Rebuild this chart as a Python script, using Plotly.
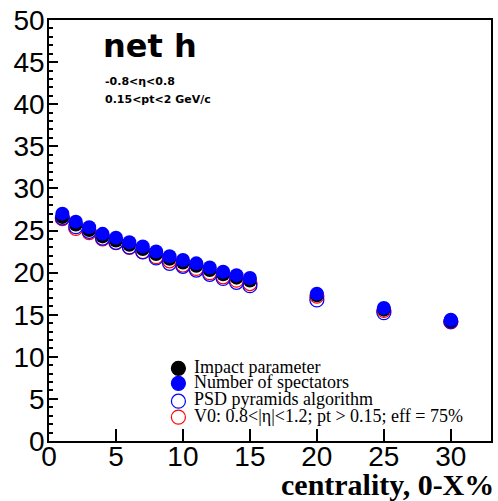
import plotly.graph_objects as go

# centrality bins (0-X %)
centrality = [1, 2, 3, 4, 5, 6, 7, 8, 9, 10, 11, 12, 13, 14, 15, 20, 25, 30]

# net-hadron values for each centrality estimator
impact_parameter = [26.6, 25.7, 25.05, 24.3, 23.8, 23.3, 22.8, 22.2, 21.65, 21.2,
                    20.8, 20.3, 19.8, 19.4, 19.05, 17.3, 15.6, 14.2]
n_spectators = [27.0, 26.05, 25.4, 24.6, 24.15, 23.6, 23.1, 22.5, 21.95, 21.5,
                21.1, 20.6, 20.1, 19.7, 19.35, 17.5, 15.8, 14.4]
psd_pyramids = [26.5, 25.45, 24.9, 24.1, 23.6, 23.05, 22.45, 21.75, 21.1, 20.75,
                20.3, 19.8, 19.3, 18.85, 18.45, 16.75, 15.25, 14.2]
v0_eff75 = [26.4, 25.25, 24.75, 24.0, 23.55, 23.0, 22.5, 21.9, 21.4, 20.9,
            20.5, 20.0, 19.5, 19.1, 18.7, 17.2, 15.5, 14.15]

legend_labels = [
    "Impact parameter",
    "Number of spectators",
    "PSD pyramids algorithm",
    "V0: 0.8<|\u03b7|<1.2; pt > 0.15; eff = 75%",
]

MS = 14
fig = go.Figure()
fig.add_trace(go.Scatter(x=centrality, y=impact_parameter, mode="markers",
                         marker=dict(symbol="circle", size=MS, color="black", line=dict(width=0))))
fig.add_trace(go.Scatter(x=centrality, y=v0_eff75, mode="markers",
                         marker=dict(symbol="circle-open", size=MS, color="#ff0000", line=dict(width=1.2))))
fig.add_trace(go.Scatter(x=centrality, y=psd_pyramids, mode="markers",
                         marker=dict(symbol="circle-open", size=MS, color="#0000ff", line=dict(width=1.2))))
fig.add_trace(go.Scatter(x=centrality, y=n_spectators, mode="markers",
                         marker=dict(symbol="circle", size=MS, color="#0000ff", line=dict(width=0))))

tickfont = dict(family="Liberation Sans", size=28, color="black")
fig.update_xaxes(range=[0, 33], tickvals=[0, 5, 10, 15, 20, 25, 30], ticks="inside", ticklen=12,
                 tickwidth=1.5, tickcolor="black", showline=True, linecolor="black", linewidth=1.5,
                 mirror=True, showgrid=False, zeroline=False, tickfont=tickfont,
                 ticklabelstandoff=-10)
fig.update_yaxes(range=[0, 50], tickvals=[0, 5, 10, 15, 20, 25, 30, 35, 40, 45, 50], ticks="inside",
                 ticklen=9, tickwidth=1.5, tickcolor="black", showline=True, linecolor="black",
                 linewidth=1.5, mirror=True, showgrid=False, zeroline=False, tickfont=tickfont,
                 ticklabelstandoff=-3,
                 minor=dict(dtick=1, ticks="inside", ticklen=4.5, tickwidth=1.5, tickcolor="black",
                            showgrid=False))

annotations = [
    dict(text="<b>net h</b>", x=0.117, y=0.938, xanchor="left", yanchor="middle",
         font=dict(family="DejaVu Sans", size=32, color="black")),
    dict(text="<b>-0.8<\u03b7<0.8</b>", x=0.122, y=0.853, xanchor="left", yanchor="middle",
         font=dict(family="DejaVu Sans", size=11, color="black")),
    dict(text="<b>0.15<pt<2 GeV/c</b>", x=0.122, y=0.812, xanchor="left", yanchor="middle",
         font=dict(family="DejaVu Sans", size=11, color="black")),
    dict(text="<b>centrality, 0-X%</b>", x=1.0, y=-0.103, xanchor="right", yanchor="middle",
         xshift=5, font=dict(family="Liberation Serif", size=30, color="black")),
]
legend_text_y = [0.1761, 0.1390, 0.0988, 0.0603]
for label, ty in zip(legend_labels, legend_text_y):
    annotations.append(dict(text=label, x=0.3243, y=ty, xanchor="left", yanchor="middle",
                            font=dict(family="Liberation Serif", size=18, color="black")))
for a in annotations:
    a.update(xref="paper", yref="paper", showarrow=False)

# legend symbols
sym_y = [0.1726, 0.1371, 0.0946, 0.0567]
sym_style = [("black", "black"), ("#0000ff", "#0000ff"), ("rgba(0,0,0,0)", "#0000ff"),
             ("rgba(0,0,0,0)", "#ff0000")]
shapes = []
for sy, (fill, line) in zip(sym_y, sym_style):
    shapes.append(dict(type="circle", xref="paper", yref="paper", xsizemode="pixel",
                       ysizemode="pixel", xanchor=0.2928, yanchor=sy, x0=-7, x1=7, y0=-7, y1=7,
                       fillcolor=fill, line=dict(color=line, width=1.2)))

fig.update_layout(width=498, height=501, margin=dict(l=49, r=5, t=18, b=60),
                  paper_bgcolor="white", plot_bgcolor="white", showlegend=False,
                  annotations=annotations, shapes=shapes)

fig.write_html("out.html")
